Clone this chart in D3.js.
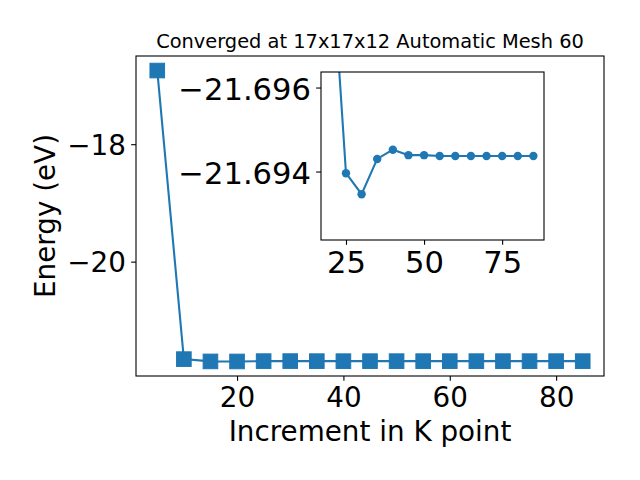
<!DOCTYPE html>
<html>
<head>
<meta charset="utf-8">
<script src="https://cdn.jsdelivr.net/npm/d3@7"></script>
<style>
  html, body { margin: 0; padding: 0; background: #fff; }
  svg { display: block; font-family: "DejaVu Sans", sans-serif; }
</style>
</head>
<body>
<svg id="chart" width="640" height="480"></svg>
<script>
// ---- data ----
const kpoints = [5, 10, 15, 20, 25, 30, 35, 40, 45, 50, 55, 60, 65, 70, 75, 80, 85];
const energy = [-16.746, -21.660, -21.6990, -21.6996, -21.69396, -21.69346, -21.69430, -21.69452,
                -21.69439, -21.69439, -21.69437, -21.69437, -21.69437, -21.69437, -21.69437, -21.69437, -21.69437];
const mainXTicks = [20, 40, 60, 80];
const mainYTicks = [-18, -20];
const insetXTicks = [25, 50, 75];
const insetYTicks = [-21.696, -21.694];
const insetXLim = [17, 88.4];
const insetYLim = [-21.69637, -21.69237]; // inverted axis: first value at top
const titleText = "Converged at 17x17x12 Automatic Mesh 60";
const xLabel = "Increment in K point";
const yLabel = "Energy (eV)";

const data = kpoints.map((k, i) => ({k, e: energy[i]}));
const color = "#1f77b4";
const svg = d3.select("#chart");
const fmt = v => String(v).replace("-", "\u2212");

// ---- main axes ----
const M = {l: 136, t: 56, r: 604, b: 376};
const xe = d3.extent(kpoints), ye = d3.extent(energy);
const xp = (xe[1] - xe[0]) * 0.05, yp = (ye[1] - ye[0]) * 0.05;
const x = d3.scaleLinear().domain([xe[0] - xp, xe[1] + xp]).range([M.l, M.r]);
const y = d3.scaleLinear().domain([ye[0] - yp, ye[1] + yp]).range([M.b, M.t]);

const tickLen = 4.86, fs = 27.8, fsi = 30.6;

const gx = svg.append("g").attr("transform", `translate(0,${M.b})`)
  .call(d3.axisBottom(x).tickValues(mainXTicks).tickFormat(fmt).tickSizeOuter(0).tickSizeInner(tickLen));
gx.select(".domain").remove();
gx.selectAll("line").attr("stroke", "#000").attr("stroke-width", 1.1);
gx.selectAll("text").attr("y", 31).attr("dy", null).attr("fill", "#000")
  .style("font-size", fs + "px").style("font-family", "DejaVu Sans");

const gy = svg.append("g").attr("transform", `translate(${M.l},0)`)
  .call(d3.axisLeft(y).tickValues(mainYTicks).tickFormat(fmt).tickSizeOuter(0).tickSizeInner(tickLen));
gy.select(".domain").remove();
gy.selectAll("line").attr("stroke", "#000").attr("stroke-width", 1.1);
gy.selectAll("text").attr("x", -10).attr("dy", "0.37em").attr("fill", "#000")
  .style("font-size", fs + "px").style("font-family", "DejaVu Sans");

const line = d3.line().x(d => x(d.k)).y(d => y(d.e));
svg.append("path").datum(data).attr("d", line)
  .attr("fill", "none").attr("stroke", color).attr("stroke-width", 2.1);
const sq = 14.6;
svg.append("g").selectAll("rect").data(data).join("rect")
  .attr("x", d => x(d.k) - sq / 2).attr("y", d => y(d.e) - sq / 2)
  .attr("width", sq).attr("height", sq)
  .attr("fill", color).attr("stroke", color).attr("stroke-width", 1);

svg.append("rect").attr("x", M.l).attr("y", M.t).attr("width", M.r - M.l).attr("height", M.b - M.t)
  .attr("fill", "none").attr("stroke", "#000").attr("stroke-width", 1.1);

svg.append("text").attr("x", (M.l + M.r) / 2).attr("y", 48)
  .attr("text-anchor", "middle").style("font-size", "19.4px").text(titleText);
svg.append("text").attr("x", (M.l + M.r) / 2).attr("y", 440.5)
  .attr("text-anchor", "middle").style("font-size", fs + "px").text(xLabel);
svg.append("text").attr("transform", `translate(54.5,${(M.t + M.b) / 2}) rotate(-90)`)
  .attr("text-anchor", "middle").style("font-size", fs + "px").text(yLabel);

// ---- inset axes ----
const I = {l: 321, t: 72, r: 544, b: 240};
const xi = d3.scaleLinear().domain(insetXLim).range([I.l, I.r]);
const yi = d3.scaleLinear().domain(insetYLim).range([I.t, I.b]);

svg.append("rect").attr("x", I.l).attr("y", I.t).attr("width", I.r - I.l).attr("height", I.b - I.t)
  .attr("fill", "#fff");

svg.append("clipPath").attr("id", "insetClip").append("rect")
  .attr("x", I.l).attr("y", I.t).attr("width", I.r - I.l).attr("height", I.b - I.t);

const gi = svg.append("g").attr("clip-path", "url(#insetClip)");
const linei = d3.line().x(d => xi(d.k)).y(d => yi(d.e));
gi.append("path").datum(data).attr("d", linei)
  .attr("fill", "none").attr("stroke", color).attr("stroke-width", 2.1);
gi.selectAll("circle").data(data).join("circle")
  .attr("cx", d => xi(d.k)).attr("cy", d => yi(d.e)).attr("r", 4.2)
  .attr("fill", color);

const gxi = svg.append("g").attr("transform", `translate(0,${I.b})`)
  .call(d3.axisBottom(xi).tickValues(insetXTicks).tickFormat(fmt).tickSizeOuter(0).tickSizeInner(tickLen));
gxi.select(".domain").remove();
gxi.selectAll("line").attr("stroke", "#000").attr("stroke-width", 1.1);
gxi.selectAll("text").attr("y", 32.5).attr("dy", null).attr("fill", "#000")
  .style("font-size", fsi + "px").style("font-family", "DejaVu Sans");

const gyi = svg.append("g").attr("transform", `translate(${I.l},0)`)
  .call(d3.axisLeft(yi).tickValues(insetYTicks).tickFormat(d => fmt(d3.format(".3f")(d))).tickSizeOuter(0).tickSizeInner(tickLen));
gyi.select(".domain").remove();
gyi.selectAll("line").attr("stroke", "#000").attr("stroke-width", 1.1);
gyi.selectAll("text").attr("x", -10).attr("dy", "0.38em").attr("fill", "#000")
  .style("font-size", fsi + "px").style("font-family", "DejaVu Sans");

svg.append("rect").attr("x", I.l).attr("y", I.t).attr("width", I.r - I.l).attr("height", I.b - I.t)
  .attr("fill", "none").attr("stroke", "#000").attr("stroke-width", 1.1);
</script>
</body>
</html>
